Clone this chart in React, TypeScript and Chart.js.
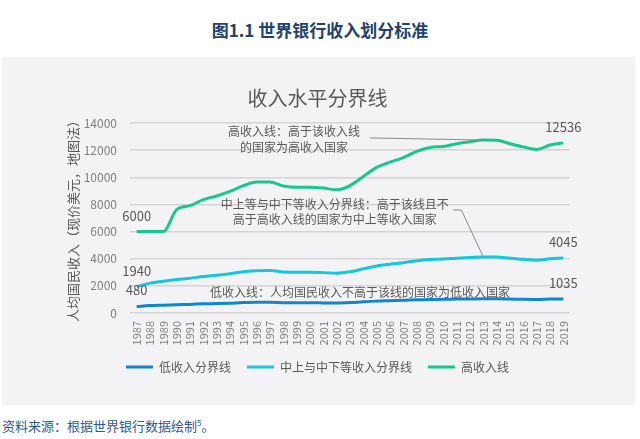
import React, { useEffect, useRef } from "react";
import { Chart, registerables } from "chart.js";

Chart.register(...registerables);

const years = [
  "1987", "1988", "1989", "1990", "1991", "1992", "1993", "1994", "1995", "1996", "1997",
  "1998", "1999", "2000", "2001", "2002", "2003", "2004", "2005", "2006", "2007", "2008",
  "2009", "2010", "2011", "2012", "2013", "2014", "2015", "2016", "2017", "2018", "2019",
];

const lowIncome = [
  480, 545, 580, 610, 635, 675, 695, 725, 765, 785, 785, 760, 755, 755, 745, 735, 765,
  825, 875, 905, 935, 975, 995, 1005, 1025, 1035, 1045, 1045, 1025, 1005, 995, 1025, 1035,
];

const middleLine = [
  1940, 2200, 2335, 2465, 2555, 2695, 2785, 2895, 3035, 3115, 3125, 3030, 2995, 2995, 2975,
  2935, 3035, 3255, 3465, 3595, 3705, 3855, 3945, 3975, 4035, 4085, 4125, 4125, 4035, 3955,
  3895, 3995, 4045,
];

const highIncome = [
  6000, 6000, 6000, 7620, 7910, 8355, 8625, 8955, 9385, 9645, 9655, 9360, 9265, 9265, 9205,
  9075, 9385, 10065, 10725, 11115, 11455, 11905, 12195, 12275, 12475, 12615, 12745, 12735,
  12475, 12235, 12055, 12375, 12536,
];

const seriesNames = ["低收入分界线", "中上与中下等收入分界线", "高收入线"];
const seriesColors = ["#0e87d3", "#17c6d8", "#16c88b"];

const yTicks = { min: 0, max: 14000, step: 2000 };

const chartTitle = "收入水平分界线";
const yAxisTitle = "人均国民收入（现价美元，地图法）";

// annotation texts anchored in data space: [category index, value]
const annotations = [
  { lines: ["高收入线：高于该收入线", "的国家为高收入国家"], at: [11.8, 13360] },
  { lines: ["中上等与中下等收入分界线：高于该线且不", "高于高收入线的国家为中上等收入国家"], at: [14.85, 8010] },
  { lines: ["低收入线：人均国民收入不高于该线的国家为低收入国家"], at: [16.75, 1500] },
];

// leader lines: list of [category index, value] vertices, ending on a data point
const leaders = [
  [[17.5, 12900], [26, 12745]],
  [[23.75, 7590], [24.35, 7590], [26, 4125]],
];

const FONT = "'Noto Sans CJK SC', 'Noto Sans', sans-serif";

const overlayPlugin = {
  id: "overlay",
  afterDatasetsDraw(chart: any) {
    const { ctx, scales } = chart;
    const xs = scales.x;
    const ys = scales.y;
    ctx.save();
    // point labels (first and last of every series)
    ctx.font = `13px ${FONT}`;
    ctx.fillStyle = "#595959";
    ctx.textAlign = "center";
    ctx.textBaseline = "middle";
    chart.data.datasets.forEach((ds: any) => {
      const d = ds.data as number[];
      [0, d.length - 1].forEach((i) => {
        const px = xs.getPixelForValue(i);
        const py = ys.getPixelForValue(d[i]);
        ctx.fillText(String(d[i]), px, py - 16);
      });
    });
    // leader lines
    ctx.strokeStyle = "#8a8a8a";
    ctx.lineWidth = 1;
    leaders.forEach((pts) => {
      ctx.beginPath();
      pts.forEach((p, k) => {
        const px = xs.getPixelForValue(p[0]);
        const py = ys.getPixelForValue(p[1]);
        if (k === 0) ctx.moveTo(px, py);
        else ctx.lineTo(px, py);
      });
      ctx.stroke();
    });
    // annotation texts
    ctx.font = `12px ${FONT}`;
    ctx.fillStyle = "#595959";
    annotations.forEach((a) => {
      const px = xs.getPixelForValue(a.at[0]);
      const py = ys.getPixelForValue(a.at[1]);
      a.lines.forEach((t, k) => {
        ctx.fillText(t, px, py + k * 15.5);
      });
    });
    ctx.restore();
  },
};

export default function App() {
  const ref = useRef<HTMLCanvasElement | null>(null);

  useEffect(() => {
    if (!ref.current) return;
    Chart.defaults.font.family = FONT;
    const chart = new Chart(ref.current, {
      type: "line",
      data: {
        labels: years,
        datasets: [lowIncome, middleLine, highIncome].map((d, i) => ({
          label: seriesNames[i],
          data: d,
          borderColor: seriesColors[i],
          backgroundColor: seriesColors[i],
          borderWidth: 3,
          pointRadius: 0,
          pointHoverRadius: 0,
          cubicInterpolationMode: "monotone",
          fill: false,
        })),
      },
      options: {
        animation: false,
        responsive: false,
        maintainAspectRatio: false,
        layout: { padding: { left: 63, right: 65, top: 29, bottom: 22 } },
        plugins: {
          tooltip: { enabled: false },
          title: {
            display: true,
            text: chartTitle,
            color: "#595959",
            font: { size: 20, weight: "normal", family: FONT },
            padding: { top: 0, bottom: 13 },
          },
          legend: {
            position: "bottom",
            labels: {
              color: "#595959",
              font: { size: 12, family: FONT },
              boxWidth: 27,
              boxHeight: 3,
              padding: 16,
              generateLabels: (c: any) =>
                (Chart.defaults.plugins.legend.labels.generateLabels as any)(c).map((l: any) => ({
                  ...l,
                  lineWidth: 0,
                  fillStyle: l.strokeStyle,
                })),
            },
          },
        },
        scales: {
          x: {
            type: "category",
            offset: true,
            grid: { display: false, drawTicks: false },
            border: { display: false },
            ticks: {
              color: "#7f7f7f",
              font: { size: 11, family: FONT },
              minRotation: 90,
              maxRotation: 90,
              autoSkip: false,
              padding: 8,
            },
            afterFit: (s: any) => {
              s.height = 32;
            },
          },
          y: {
            min: yTicks.min,
            max: yTicks.max,
            ticks: {
              stepSize: yTicks.step,
              color: "#7f7f7f",
              font: { size: 12, family: FONT },
              padding: 13,
              callback: (v: any) => String(v),
            },
            grid: { color: "#d4d4d6", lineWidth: 1.5, drawTicks: false },
            border: { display: false },
            title: {
              display: true,
              text: yAxisTitle,
              color: "#595959",
              font: { size: 13, family: FONT },
              padding: { top: 0, bottom: 0 },
            },
            afterFit: (s: any) => {
              s.width = 65;
            },
          },
        },
      },
      plugins: [overlayPlugin],
    } as any);
    return () => chart.destroy();
  }, []);

  return (
    <div style={{ position: "absolute", left: 0, top: 0, width: 640, height: 439, background: "#fff", fontFamily: FONT }}>
      <div
        style={{
          position: "absolute",
          left: 0,
          top: 18,
          width: 640,
          textAlign: "center",
          fontSize: 17,
          fontWeight: "bold",
          color: "#23426f",
          lineHeight: "24px",
        }}
      >
        图1.1 世界银行收入划分标准
      </div>
      <div style={{ position: "absolute", left: 2, top: 57, width: 633, height: 348, background: "#f3f3f5" }}>
        <canvas ref={ref} width={633} height={348} style={{ display: "block", width: 633, height: 348 }} />
      </div>
      <div
        style={{
          position: "absolute",
          left: 2,
          top: 413,
          fontSize: 13,
          color: "#2e5a95",
          lineHeight: "20px",
        }}
      >
        资料来源：根据世界银行数据绘制<sup style={{ fontSize: 8 }}>5</sup>。
      </div>
    </div>
  );
}
